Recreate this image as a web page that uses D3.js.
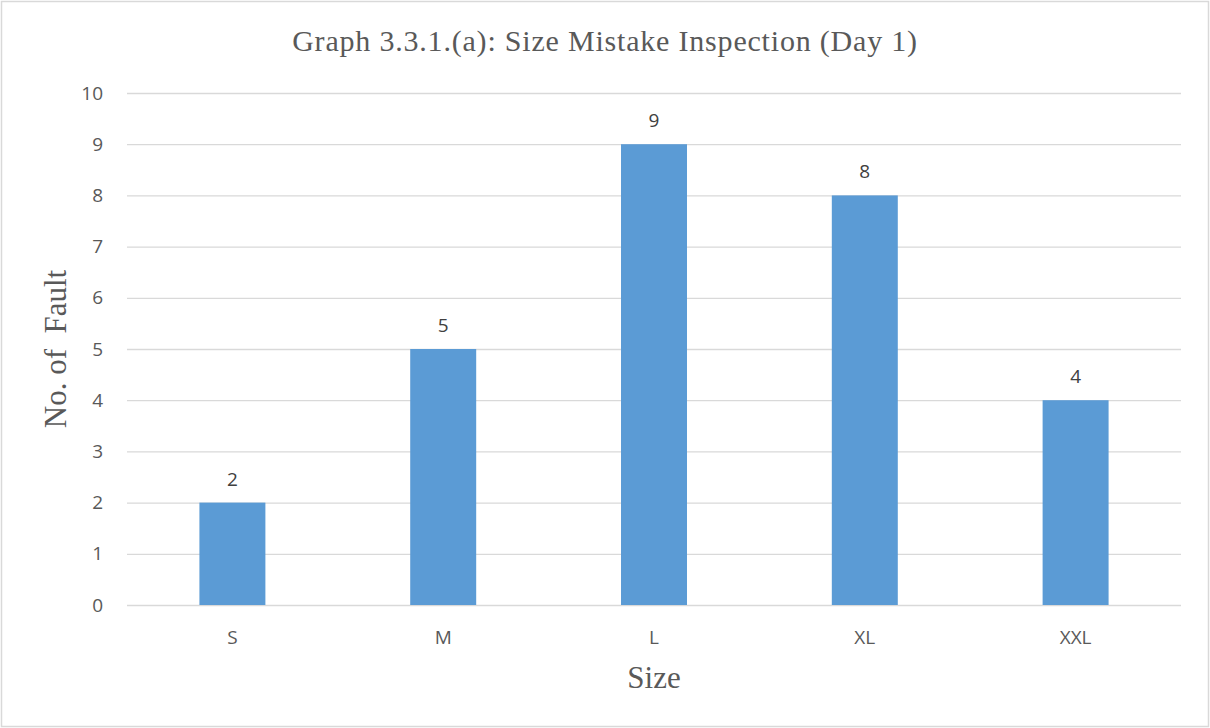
<!DOCTYPE html>
<html>
<head>
<meta charset="utf-8">
<script src="https://cdn.jsdelivr.net/npm/d3@7"></script>
<style>
  html, body { margin: 0; padding: 0; background: #fff; }
  svg { display: block; }
</style>
</head>
<body>
<svg id="chart" width="1210" height="728"></svg>
<script>
// Fault counts by garment size
const sizes = ["S", "M", "L", "XL", "XXL"];
const faults = [2, 5, 9, 8, 4];
const yTicks = [0, 1, 2, 3, 4, 5, 6, 7, 8, 9, 10];

const titleText = "Graph 3.3.1.(a): Size Mistake Inspection (Day 1)";
const xTitle = "Size";
const yTitle = "No. of  Fault";

const W = 1210, H = 728;
const margin = { left: 127, right: 29, top: 93, bottom: 123 };
const svg = d3.select("#chart");

const textColor = "#595959";
const gridColor = "#d9d9d9";
const barColor = "#5b9bd5";
const sansFont = "'Open Sans', 'Noto Sans', sans-serif";
const serifFont = "'Liberation Serif', 'Times New Roman', serif";
const labelSize = 19;

// outer frame
svg.append("rect")
  .attr("x", 1.5).attr("y", 1.5)
  .attr("width", W - 3).attr("height", H - 3)
  .attr("fill", "#fff")
  .attr("stroke", "#d9d9d9")
  .attr("stroke-width", 1.5);

const x = d3.scaleBand()
  .domain(sizes)
  .range([margin.left, W - margin.right])
  .paddingInner(0.687)
  .paddingOuter(0.3435);

const y = d3.scaleLinear()
  .domain([0, 10])
  .range([H - margin.bottom, margin.top]);

// horizontal gridlines with tick labels
const yAxis = d3.axisLeft(y)
  .tickValues(yTicks)
  .tickSize(-(W - margin.left - margin.right))
  .tickPadding(24)
  .tickFormat(d3.format("d"));

const gy = svg.append("g")
  .attr("transform", `translate(${margin.left},0)`)
  .call(yAxis);
gy.select(".domain").remove();
gy.selectAll(".tick line").attr("stroke", gridColor).attr("stroke-width", 1.3);
gy.selectAll(".tick text")
  .attr("fill", textColor)
  .attr("font-family", sansFont)
  .attr("font-size", labelSize);

// bars
svg.append("g").selectAll("rect")
  .data(sizes.map((s, i) => ({ s, v: faults[i] })))
  .join("rect")
  .attr("x", d => x(d.s))
  .attr("y", d => y(d.v))
  .attr("width", x.bandwidth())
  .attr("height", d => y(0) - y(d.v))
  .attr("fill", barColor);

// value labels
svg.append("g").selectAll("text")
  .data(sizes.map((s, i) => ({ s, v: faults[i] })))
  .join("text")
  .attr("x", d => x(d.s) + x.bandwidth() / 2)
  .attr("y", d => y(d.v) - 17)
  .attr("text-anchor", "middle")
  .attr("fill", "#404040")
  .attr("font-family", sansFont)
  .attr("font-size", labelSize)
  .text(d => d.v);

// category axis
const xAxis = d3.axisBottom(x).tickSize(0);
const gx = svg.append("g")
  .attr("transform", `translate(0,${y(0)})`)
  .call(xAxis);
gx.select(".domain").remove();
gx.selectAll(".tick text")
  .attr("y", 39)
  .attr("dy", 0)
  .attr("fill", textColor)
  .attr("font-family", sansFont)
  .attr("font-size", labelSize);

// chart title
svg.append("text")
  .attr("x", 605).attr("y", 51)
  .attr("text-anchor", "middle")
  .attr("fill", textColor)
  .attr("font-family", serifFont)
  .attr("font-size", 30)
  .attr("letter-spacing", 0.8)
  .text(titleText);

// axis titles
svg.append("text")
  .attr("x", 654)
  .attr("y", 688)
  .attr("text-anchor", "middle")
  .attr("fill", textColor)
  .attr("font-family", serifFont)
  .attr("font-size", 31)
  .text(xTitle);

svg.append("text")
  .attr("transform", `translate(66,${(margin.top + H - margin.bottom) / 2}) rotate(-90)`)
  .attr("text-anchor", "middle")
  .attr("fill", textColor)
  .attr("font-family", serifFont)
  .attr("font-size", 31)
  .style("white-space", "pre")
  .text(yTitle);
</script>
</body>
</html>
